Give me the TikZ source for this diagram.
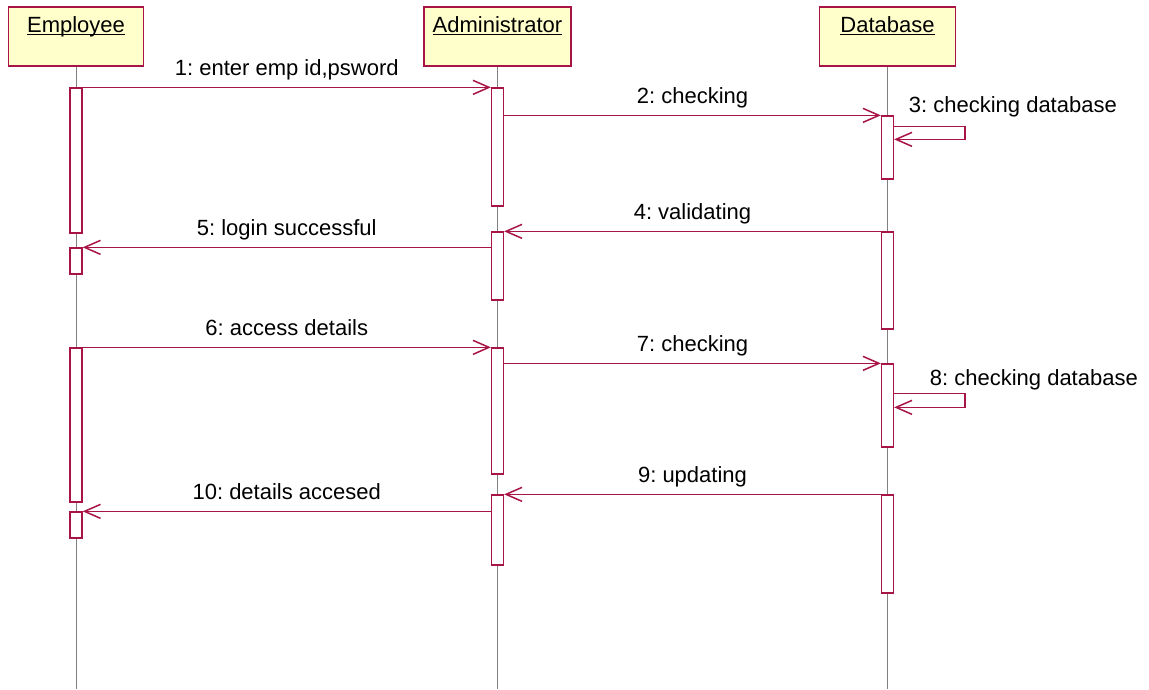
\documentclass[tikz,border=0pt]{standalone}
\usepackage{fontspec}
\setmainfont{Liberation Sans}
\usetikzlibrary{arrows.meta}

\definecolor{rosered}{RGB}{168,20,70}
\definecolor{roseyellow}{RGB}{255,255,204}
\newcommand{\objname}[1]{\setbox0\hbox{#1}\rlap{\rule[-2.5pt]{\wd0}{1pt}}\box0}
\frenchspacing

\begin{document}
\begin{tikzpicture}[
    x=1pt, y=-1pt,
    font=\fontsize{22}{26}\selectfont,
    head/.style={rectangle, draw=rosered, fill=roseyellow, line width=1.3pt, text height=25.5pt, text depth=33.5pt, inner sep=0pt},
    bar/.style={rectangle, draw=rosered, fill=white, line width=1.3pt, minimum width=12pt, inner sep=0pt},
    lifeline/.style={draw=gray, line width=1pt},
    msg/.style={draw=rosered, line width=1.5pt, ->},
    lbl/.style={anchor=base, inner sep=0pt, yshift=12pt},
    selflbl/.style={anchor=base west, inner sep=0pt},
    >={Straight Barb[length=16pt, width=14pt]}
]
    \useasboundingbox (0,0) rectangle (1149,689);

    % Objects
    \node[head, minimum width=135pt] (emp) at (76,36.5)    {\objname{Employee}};
    \node[head, minimum width=147pt] (adm) at (497.5,36.5) {\objname{Administrator}};
    \node[head, minimum width=136pt] (db)  at (887.5,36.5) {\objname{Database}};

    % Lifelines
    \coordinate (bottom) at (0,689);
    \foreach \o in {emp,adm,db}
        \draw[lifeline] (\o.south) -- (\o.south |- bottom);

    % Activations
    \node[bar, minimum height=145pt] (empA) at (76,160.5) {};
    \node[bar, minimum height=26pt]  (empB) at (76,261)   {};
    \node[bar, minimum height=154pt] (empC) at (76,425)   {};
    \node[bar, minimum height=26pt]  (empD) at (76,525)   {};

    \node[bar, minimum height=118pt] (admA) at (497.5,147) {};
    \node[bar, minimum height=68pt]  (admB) at (497.5,266) {};
    \node[bar, minimum height=126pt] (admC) at (497.5,411) {};
    \node[bar, minimum height=70pt]  (admD) at (497.5,530) {};

    \node[bar, minimum height=63pt] (dbA) at (887.5,147.5) {};
    \node[bar, minimum height=97pt] (dbB) at (887.5,280.5) {};
    \node[bar, minimum height=83pt] (dbC) at (887.5,405.5) {};
    \node[bar, minimum height=98pt] (dbD) at (887.5,544)   {};

    % Login
    \draw[msg] (empA.north east) -- node[lbl] {1: enter emp id,psword} (admA.north west);
    \draw[msg] (admA.east |- dbA.north) -- node[lbl] {2: checking} (dbA.north west);
    \draw[msg] ([yshift=-11pt]dbA.north east)
        node[selflbl, xshift=14pt, yshift=14pt] {3: checking database}
        -- ++(71,0) -- ++(0,13) -- ([yshift=-24pt]dbA.north east);
    \draw[msg] (dbB.north west) -- node[lbl] {4: validating} (admB.north east);
    \draw[msg] (admB.west |- empB.north) -- node[lbl] {5: login successful} (empB.north east);

    % Access
    \draw[msg] (empC.north east) -- node[lbl] {6: access details} (admC.north west);
    \draw[msg] (admC.east |- dbC.north) -- node[lbl] {7: checking} (dbC.north west);
    \draw[msg] ([yshift=-30pt]dbC.north east)
        node[selflbl, xshift=35pt, yshift=8pt] {8: checking database}
        -- ++(71,0) -- ++(0,14) -- ([yshift=-44pt]dbC.north east);
    \draw[msg] (dbD.north west) -- node[lbl] {9: updating} (admD.north east);
    \draw[msg] (admD.west |- empD.north) -- node[lbl] {10: details accesed} (empD.north east);
\end{tikzpicture}
\end{document}
